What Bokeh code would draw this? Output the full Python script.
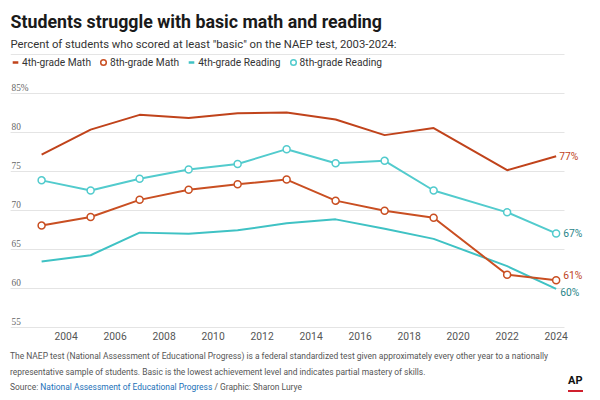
from bokeh.plotting import figure
from bokeh.models import (Label, LabelSet, Legend, LegendItem, Grid, FixedTicker,
                          ColumnDataSource, Range1d, BoxAnnotation, Div)
from bokeh.layouts import column
from bokeh.embed import file_html
from bokeh.resources import INLINE

# ---- data ----
years = [2003, 2005, 2007, 2009, 2011, 2013, 2015, 2017, 2019, 2022, 2024]
math4 = [77.2, 80.4, 82.3, 81.9, 82.5, 82.6, 81.7, 79.7, 80.6, 75.2, 77.0]
math8 = [68.1, 69.2, 71.4, 72.7, 73.4, 74.0, 71.3, 70.0, 69.1, 61.8, 61.1]
read4 = [63.5, 64.3, 67.2, 67.05, 67.5, 68.4, 68.9, 67.7, 66.4, 62.9, 60.0]
read8 = [73.9, 72.6, 74.1, 75.3, 76.0, 77.9, 76.1, 76.4, 72.6, 69.8, 67.1]

series_names = ["4th-grade Math", "8th-grade Math", "4th-grade Reading", "8th-grade Reading"]
end_labels = ["77%", "61%", "60%", "67%"]

x_ticks = [2004, 2006, 2008, 2010, 2012, 2014, 2016, 2018, 2020, 2022, 2024]
y_ticks = [55, 60, 65, 70, 75, 80, 85]
y_tick_labels = ["55", "60", "65", "70", "75", "80", "85%"]

title = "Students struggle with basic math and reading"
subtitle = 'Percent of students who scored at least "basic" on the NAEP test, 2003-2024:'
note1 = ("The NAEP test (National Assessment of Educational Progress) is a federal standardized "
         "test given approximately every other year to a nationally")
note2 = ("representative sample of students. Basic is the lowest achievement level and "
         "indicates partial mastery of skills.")
src_a = "Source:"
src_b = "National Assessment of Educational Progress"
src_c = "/ Graphic: Sharon Lurye"

# ---- styling ----
FONT = "Roboto"
C_M4 = "#c0431b"
C_M8 = "#c94f22"
C_R4 = "#3fc2c4"
C_R8 = "#52cbcd"
C_LAB_M = "#c0431b"
C_LAB_R = "#2a8589"

p = figure(width=600, height=349, output_backend="svg", toolbar_location=None,
           x_range=Range1d(2001.73, 2025.81), y_range=Range1d(54.78, 96.96),
           y_axis_location=None, min_border=0,
           min_border_left=10, min_border_right=0, min_border_top=0, min_border_bottom=20,
           outline_line_color=None, background_fill_color="white")
p.xgrid.visible = False
p.add_layout(Grid(dimension=1, ticker=FixedTicker(ticks=y_ticks),
                  grid_line_color="#e4e4e4", grid_line_width=1))
# grid lines stop short of the end labels
p.add_layout(BoxAnnotation(left=2024.34, fill_color="white", fill_alpha=1,
                           line_color=None, level="underlay"))

ax = p.xaxis[0]
ax.ticker = FixedTicker(ticks=x_ticks)
ax.axis_line_color = None
ax.major_tick_line_color = None
ax.minor_tick_line_color = None
ax.major_tick_out = 0
ax.major_tick_in = 0
ax.major_label_standoff = 2
ax.major_label_text_font = FONT
ax.major_label_text_font_size = "10.3px"
ax.major_label_text_color = "#555555"

# y tick labels sitting on top of the grid lines
ysrc = ColumnDataSource(dict(y=y_ticks, text=y_tick_labels))
p.add_layout(LabelSet(source=ysrc, x=1, x_units="screen", y="y", text="text",
                      y_offset=3, text_baseline="alphabetic", text_align="left",
                      text_font=FONT, text_font_size="9.3px", text_color="#666666"))

# ---- series ----
r_r4 = p.line(years, read4, line_color=C_R4, line_width=2)
r_r8 = p.line(years, read8, line_color=C_R8, line_width=2)
p.scatter(years, read8, marker="circle", size=7, fill_color="white",
          line_color=C_R8, line_width=1.5)
r_m8 = p.line(years, math8, line_color=C_M8, line_width=2)
p.scatter(years, math8, marker="circle", size=7, fill_color="white",
          line_color=C_M8, line_width=1.5)
r_m4 = p.line(years, math4, line_color=C_M4, line_width=2)

# legend symbols (invisible renderers used only for the legend)
lg_m4 = p.scatter([years[0]], [math4[0]], marker="dash", line_color=C_M4, line_width=2.5, visible=False)
lg_m8 = p.scatter([years[0]], [math8[0]], marker="circle", fill_color="white",
                  line_color=C_M8, line_width=1.5, visible=False)
lg_r4 = p.scatter([years[0]], [read4[0]], marker="dash", line_color=C_R4, line_width=2.5, visible=False)
lg_r8 = p.scatter([years[0]], [read8[0]], marker="circle", fill_color="white",
                  line_color=C_R8, line_width=1.5, visible=False)

legend = Legend(items=[LegendItem(label=series_names[0], renderers=[lg_m4]),
                       LegendItem(label=series_names[1], renderers=[lg_m8]),
                       LegendItem(label=series_names[2], renderers=[lg_r4]),
                       LegendItem(label=series_names[3], renderers=[lg_r8])],
                orientation="horizontal", location=(-2, 259),
                glyph_width=14, glyph_height=16, label_height=16, label_standoff=0,
                spacing=5, padding=0, margin=0,
                border_line_color=None, background_fill_alpha=0,
                label_text_font=FONT, label_text_font_size="10.2px",
                label_text_color="#333333", click_policy="none")
p.add_layout(legend)

# ---- end labels ----
end_vals = [math4[-1], math8[-1], read4[-1], read8[-1]]
end_cols = [C_LAB_M, C_LAB_M, C_LAB_R, C_LAB_R]
end_dx = [3, 7, 4, 7]
end_dy = [0, 5, -4, 0]
for v, t, c, dx, dy in zip(end_vals, end_labels, end_cols, end_dx, end_dy):
    p.add_layout(Label(x=years[-1], y=v, text=t, x_offset=dx, y_offset=dy,
                       text_baseline="middle", text_align="left",
                       text_font=FONT, text_font_size="10.3px", text_color=c))

# ---- title and subtitle (screen units relative to the plot frame) ----
p.add_layout(Label(x=0, y=308.3, x_units="screen", y_units="screen", text=title,
                   text_font=FONT, text_font_style="bold", text_font_size="17.8px",
                   text_color="#1a1a1a", text_baseline="alphabetic"))
p.add_layout(Label(x=0, y=285, x_units="screen", y_units="screen", text=subtitle,
                   text_font=FONT, text_font_size="11.3px",
                   text_color="#333333", text_baseline="alphabetic"))

# ---- footer ----
footer_html = (
    '<div style="position:relative;width:600px;height:51px;font-family:Roboto;'
    'font-size:8.45px;line-height:15.5px;color:#555555;white-space:nowrap;">'
    f'<div style="position:absolute;left:10px;top:0px;">{note1}<br>{note2}<br>'
    f'{src_a} <span style="color:#1a70b8">{src_b}</span> {src_c}</div>'
    '<div style="position:absolute;left:568px;top:26px;font-weight:bold;font-size:11px;'
    'line-height:11px;color:#111111;">AP</div>'
    '<div style="position:absolute;left:568px;top:41px;width:15px;height:2px;'
    'background:#d0202e;"></div>'
    '</div>'
)
footer = Div(text=footer_html, width=600, height=51, margin=0)

layout = column(p, footer, spacing=0)
open("out.html", "w").write(file_html(layout, INLINE))
